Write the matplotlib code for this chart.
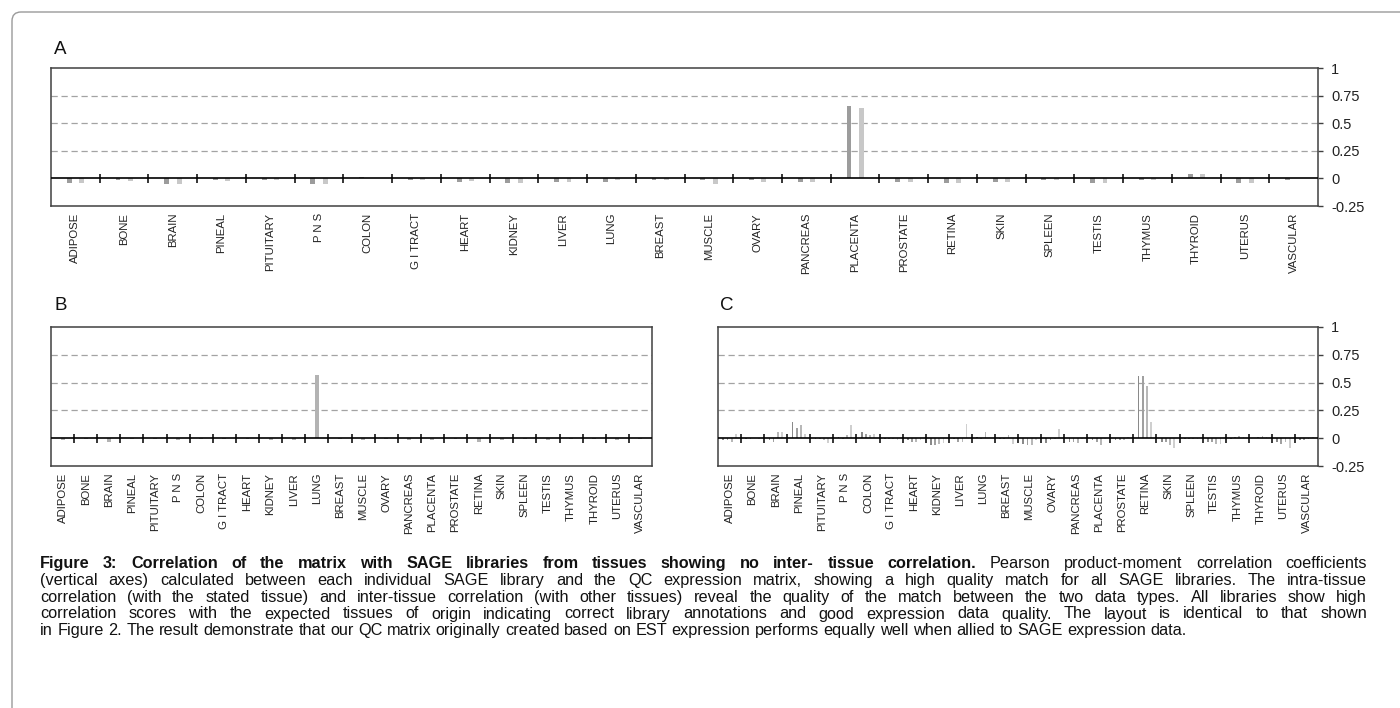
import numpy as np
import matplotlib
matplotlib.use("Agg")
import matplotlib.pyplot as plt
from matplotlib.patches import FancyBboxPatch
from matplotlib.transforms import IdentityTransform

plt.rcParams['font.family'] = ['Liberation Sans', 'DejaVu Sans']
plt.rcParams['axes.unicode_minus'] = False

# ---------------------------------------------------------------- data
tissues = ["ADIPOSE", "BONE", "BRAIN", "PINEAL", "PITUITARY", "P N S", "COLON",
           "G I TRACT", "HEART", "KIDNEY", "LIVER", "LUNG", "BREAST", "MUSCLE",
           "OVARY", "PANCREAS", "PLACENTA", "PROSTATE", "RETINA", "SKIN",
           "SPLEEN", "TESTIS", "THYMUS", "THYROID", "UTERUS", "VASCULAR"]

# Panel A: two placenta SAGE libraries
placenta_lib1 = [-0.04, -0.01, -0.05, -0.01, -0.01, -0.05, 0.01, -0.01, -0.03, -0.04,
                 -0.03, -0.03, -0.01, -0.01, -0.01, -0.03, 0.66, -0.03, -0.04, -0.03,
                 -0.01, -0.04, -0.01, 0.04, -0.04, -0.01]
placenta_lib2 = [-0.04, -0.02, -0.05, -0.02, -0.01, -0.05, 0.00, -0.01, -0.02, -0.04,
                 -0.03, -0.01, -0.01, -0.05, -0.03, -0.03, 0.64, -0.03, -0.04, -0.03,
                 -0.01, -0.04, -0.01, 0.04, -0.04, 0.00]

# Panel B: one lung SAGE library
lung_lib = [-0.02, -0.01, -0.03, -0.01, -0.01, -0.02, -0.01, -0.01, -0.01, -0.02,
            -0.02, 0.57, -0.01, -0.02, -0.01, -0.02, -0.02, -0.01, -0.03, -0.02,
            -0.01, -0.02, -0.01, -0.01, -0.02, -0.01]

# Panel C: four retina SAGE libraries
retina_lib1 = [-0.02, -0.01, -0.02, 0.15, -0.01, 0.01, 0.06, -0.01, -0.02, -0.06,
               -0.01, 0.01, -0.01, -0.05, -0.04, -0.03, -0.02, -0.02, 0.56, -0.03,
               -0.01, -0.03, -0.01, 0.00, -0.03, -0.02]
retina_lib2 = [-0.02, -0.01, -0.03, 0.09, -0.01, -0.01, 0.04, -0.01, -0.03, -0.06,
               -0.03, -0.01, -0.01, -0.06, -0.02, -0.03, -0.03, -0.02, 0.56, -0.03,
               -0.01, -0.03, 0.01, 0.01, -0.05, -0.02]
retina_lib3 = [-0.03, 0.00, 0.06, 0.12, -0.02, 0.03, 0.03, -0.01, -0.03, -0.05,
               -0.03, 0.06, 0.03, -0.06, -0.01, -0.04, -0.06, -0.02, 0.47, -0.06,
               -0.01, -0.05, 0.02, 0.02, -0.03, -0.01]
retina_lib4 = [0.04, -0.01, 0.06, 0.04, -0.04, 0.12, 0.04, -0.02, -0.02, -0.04,
               0.13, 0.00, -0.05, -0.02, 0.08, -0.01, -0.01, 0.01, 0.15, -0.09,
               -0.01, -0.05, 0.01, 0.01, -0.09, 0.01]

y_ticks = [-0.25, 0, 0.25, 0.5, 0.75, 1]
y_tick_labels = ["-0.25", "0", "0.25", "0.5", "0.75", "1"]

caption_lines = [
    [("Figure 3: Correlation of the matrix with SAGE libraries from tissues showing no inter- tissue correlation.", True),
     ("Pearson product-moment correlation coefficients", False)],
    [("(vertical axes) calculated between each individual SAGE library and the QC expression matrix, showing a high quality match for all SAGE libraries.  The intra-tissue", False)],
    [("correlation (with the stated tissue) and inter-tissue correlation (with other tissues) reveal the quality of the match between the two data types.  All libraries show high", False)],
    [("correlation scores with the expected tissues of origin indicating correct library annotations and good expression data quality.  The layout is identical to that shown", False)],
    [("in Figure 2.  The result demonstrate that our QC matrix originally created based on EST expression performs equally well when allied to SAGE expression data.", False)],
]

# ---------------------------------------------------------------- figure
W, H = 1400, 708
fig = plt.figure(figsize=(W / 100, H / 100), dpi=100)

# rounded frame around the whole figure block
frame = FancyBboxPatch((12, -30), 1440, H - 12 + 30,
                       boxstyle="round,pad=0,rounding_size=9",
                       transform=IdentityTransform(), fill=False,
                       ec="#9a9a9a", lw=1.0)
fig.add_artist(frame)


def px_axes(left, top, right, bottom):
    return fig.add_axes([left / W, 1 - bottom / H, (right - left) / W, (bottom - top) / H])


def draw_panel(ax, series, offsets, width, colors, show_y):
    n = len(tissues)
    centers = np.arange(n) + 0.5
    for vals, off, col in zip(series, offsets, colors):
        ax.bar(centers + off, vals, width=width, color=col, linewidth=0, zorder=2)
    ax.set_xlim(0, n)
    ax.set_ylim(-0.25, 1)
    for g in (0.25, 0.5, 0.75):
        ax.axhline(g, color="#a3a3a3", lw=0.9, dashes=(5, 3), zorder=1)
    ax.axhline(0, color="black", lw=1.2, zorder=3)
    ax.vlines(np.arange(1, n), -0.042, 0.042, color="black", lw=1.1, zorder=3)
    ax.set_xticks(centers)
    ax.set_xticklabels(tissues, rotation=90, fontsize=8.2, color="#222222")
    ax.tick_params(axis="x", length=0, pad=5)
    for sp in ax.spines.values():
        sp.set_color("#404040")
        sp.set_linewidth(1.1)
    if show_y:
        ax.yaxis.tick_right()
        ax.set_yticks(y_ticks)
        ax.set_yticklabels(y_tick_labels)
        ax.tick_params(axis="y", direction="out", length=3.5, width=1.0,
                       color="#404040", pad=6, labelsize=10.5, labelcolor="#222222")
    else:
        ax.set_yticks([])


axA = px_axes(51, 68, 1318, 206)
draw_panel(axA, [placenta_lib1, placenta_lib2], [-0.125, 0.13], 0.10,
           ["#9c9c9c", "#c8c8c8"], True)

axB = px_axes(51, 327, 652, 466)
draw_panel(axB, [lung_lib], [0.0], 0.17, ["#b3b3b3"], False)

axC = px_axes(718, 327, 1318, 466)
draw_panel(axC, [retina_lib1, retina_lib2, retina_lib3, retina_lib4],
           [-0.273, -0.091, 0.091, 0.273], 0.075,
           ["#8a8a8a", "#a0a0a0", "#b8b8b8", "#cfcfcf"], True)

# panel letters
for letter, x, y in (("A", 54, 50), ("B", 54, 305), ("C", 720, 305)):
    fig.text(x / W, 1 - y / H, letter, fontsize=13.5, ha="left", va="center", color="#111111")

# ---------------------------------------------------------------- caption
renderer = fig.canvas.get_renderer()
cap_fs = 11.7
cap_left, cap_right = 40, 1367
baselines = [568, 585, 602, 618.5, 635]

probe1 = fig.text(0, 0, "x x", fontsize=cap_fs, transform=IdentityTransform())
probe2 = fig.text(0, 0, "xx", fontsize=cap_fs, transform=IdentityTransform())
space_w = probe1.get_window_extent(renderer).width - probe2.get_window_extent(renderer).width
probe1.remove()
probe2.remove()

for i, line in enumerate(caption_lines):
    words = []
    for chunk, bold in line:
        for w in chunk.split():
            words.append((w, bold))
    texts = [fig.text(0, 0, w, fontsize=cap_fs, fontweight="bold" if b else "normal",
                      transform=IdentityTransform(), ha="left", va="baseline",
                      color="#111111") for w, b in words]
    widths = [t.get_window_extent(renderer).width for t in texts]
    if i < len(caption_lines) - 1:
        gap = (cap_right - cap_left - sum(widths)) / (len(words) - 1)
    else:
        gap = space_w
    x = cap_left
    for t, w in zip(texts, widths):
        t.set_position((x, H - baselines[i]))
        x += w + gap

fig.savefig("out.png", dpi=100)
